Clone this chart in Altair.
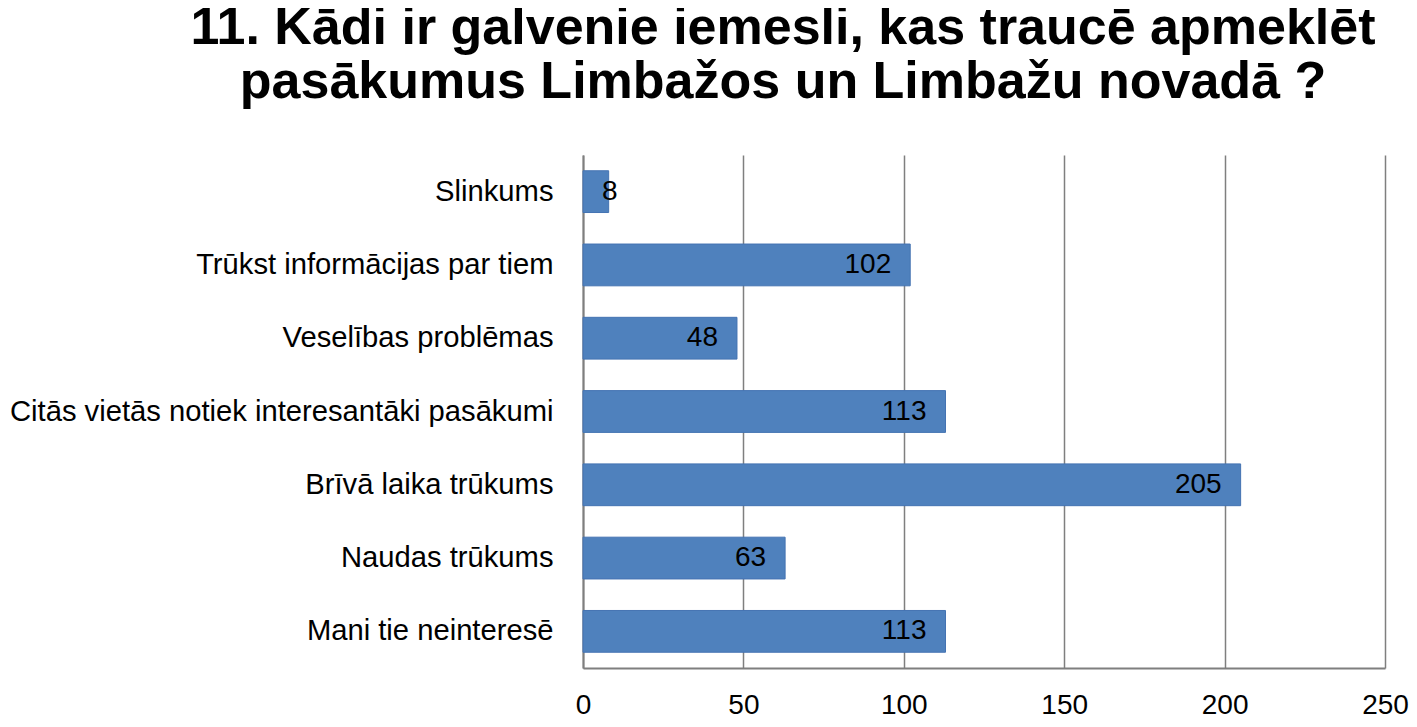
import altair as alt
import pandas as pd

categories = [
    "Slinkums",
    "Trūkst informācijas par tiem",
    "Veselības problēmas",
    "Citās vietās notiek interesantāki  pasākumi",
    "Brīvā laika trūkums",
    "Naudas trūkums",
    "Mani tie neinteresē",
]
values = [8, 102, 48, 113, 205, 63, 113]
x_ticks = [0, 50, 100, 150, 200, 250]
title_lines = [
    "11. Kādi ir galvenie iemesli, kas traucē apmeklēt",
    "pasākumus Limbažos un Limbažu novadā ?",
]

df = pd.DataFrame({"cat": categories, "val": values})

FONT = "Liberation Sans, Arial"
GRID = "#7F7F7F"

x = alt.X(
    "val:Q",
    scale=alt.Scale(domain=[0, 250], nice=False),
    axis=alt.Axis(
        values=x_ticks,
        title=None,
        ticks=False,
        grid=True,
        gridColor=GRID,
        gridWidth=1.5,
        domainColor=GRID,
        domainWidth=2,
        labelFont=FONT,
        labelFontSize=28,
        labelColor="black",
        labelPadding=23,
        labelFlush=False,
    ),
)
y = alt.Y(
    "cat:N",
    sort=categories,
    scale=alt.Scale(paddingInner=0.43, paddingOuter=0.215),
    axis=alt.Axis(
        title=None,
        ticks=False,
        domainColor=GRID,
        domainWidth=2,
        labelFont=FONT,
        labelFontSize=29.2,
        labelColor="black",
        labelPadding=30,
        labelLimit=700,
    ),
)

bars = alt.Chart(df).mark_bar(color="#4F81BD", stroke="#4473B2", strokeWidth=1).encode(x=x, y=y)

labels_big = (
    alt.Chart(df)
    .transform_filter("datum.val >= 20")
    .mark_text(align="right", baseline="middle", dx=-19, font=FONT, fontSize=28, color="black")
    .encode(x="val:Q", y=alt.Y("cat:N", sort=categories), text="val:Q")
)
labels_small = (
    alt.Chart(df)
    .transform_filter("datum.val < 20")
    .mark_text(align="center", baseline="middle", dx=1, font=FONT, fontSize=28, color="black")
    .encode(x="val:Q", y=alt.Y("cat:N", sort=categories), text="val:Q")
)

chart = (
    alt.layer(bars, labels_big, labels_small)
    .properties(
        width=802,
        height=513,
        padding={"left": 575, "top": 147, "right": 24, "bottom": 51},
        autosize=alt.AutoSizeParams(type="none"),
        title=alt.TitleParams(
            text=title_lines,
            font=FONT,
            fontSize=52,
            fontWeight="bold",
            color="black",
            anchor="middle",
            frame="group",
            dx=-201,
            offset=46,
            lineHeight=54,
        ),
    )
    .configure_view(stroke=None)
)

chart.save("out.html", embed_options={"renderer": "svg", "actions": False})
